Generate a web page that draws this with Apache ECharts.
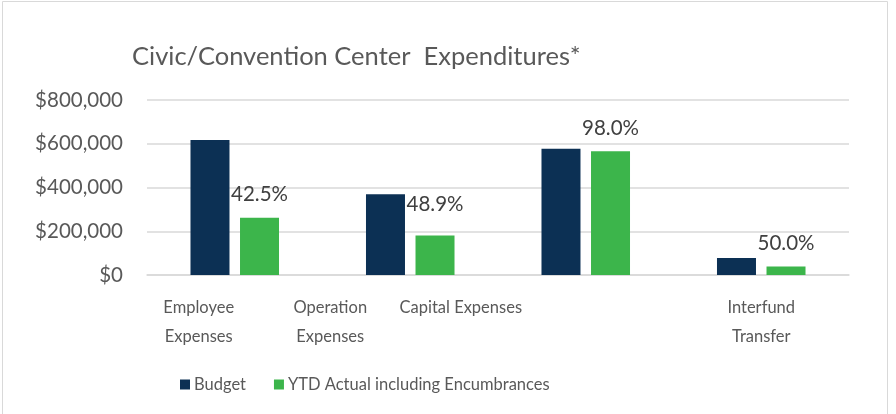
<!DOCTYPE html>
<html><head><meta charset="utf-8">
<script src="https://cdn.jsdelivr.net/npm/echarts@6/dist/echarts.min.js"></script>
<style>html,body{margin:0;padding:0;background:#fff}#c{width:896px;height:414px}</style>
</head><body><div id="c"></div>
<script>
const categories = ['Employee\nExpenses', 'Operation\nExpenses', 'Capital Expenses', 'Interfund\nTransfer'];
const budget = [617000, 369000, 577000, 78000];
const ytdActual = [262000, 180500, 565500, 39000];
const pctLabels = ['42.5%', '48.9%', '98.0%', '50.0%'];
const yTicks = [0, 200000, 400000, 600000, 800000];

const FONT = 'Lato';
const TXT = '#595959';
const labelShift = [72, 160, 250, 0];
const labelDist = [13, 21, 12, 13];

const chart = echarts.init(document.getElementById('c'));
chart.setOption({
  animation: false,
  textStyle: {fontFamily: FONT},
  graphic: [{type: 'rect', shape: {x: 2.5, y: 1.5, width: 885, height: 430}, style: {fill: 'none', stroke: '#d9d9d9', lineWidth: 1}}],
  title: {
    text: 'Civic/Convention Center  Expenditures*',
    left: 127, top: 39,
    textStyle: {fontFamily: FONT, fontSize: 25.5, fontWeight: 'normal', color: TXT}
  },
  legend: {
    bottom: 16, left: 175,
    itemWidth: 10, itemHeight: 10, itemGap: 28,
    icon: 'rect',
    textStyle: {fontFamily: FONT, fontSize: 16.5, color: TXT, padding: [0, 0, 0, -1]},
    data: ['Budget', 'YTD Actual including Encumbrances']
  },
  grid: {left: 147, right: 47, top: 100, bottom: 139},
  xAxis: {
    type: 'category',
    data: categories.map((c, i) => ({value: c, textStyle: {padding: [0, labelShift[i], 0, 0]}})),
    axisLine: {show: true, lineStyle: {color: '#d9d9d9', width: 1.5}},
    axisTick: {show: false},
    axisLabel: {fontFamily: FONT, fontSize: 16.5, color: TXT, margin: 18, lineHeight: 29, interval: 0}
  },
  yAxis: {
    type: 'value', min: yTicks[0], max: yTicks[yTicks.length - 1], interval: 200000,
    axisLine: {show: false}, axisTick: {show: false},
    splitLine: {lineStyle: {color: '#d9d9d9', width: 1.5}},
    axisLabel: {fontFamily: FONT, fontSize: 20.5, color: TXT, margin: 24,
      formatter: v => '$' + v.toLocaleString('en-US')}
  },
  series: [
    {name: 'Budget', type: 'bar', data: budget, barWidth: 39, barGap: '27%',
      itemStyle: {color: '#0c3054'}},
    {name: 'YTD Actual including Encumbrances', type: 'bar', data: ytdActual.map((v, i) => ({
        value: v,
        label: {show: true, position: 'top', distance: labelDist[i], formatter: pctLabels[i],
          fontFamily: FONT, fontSize: 20.5, color: '#404040'}
      })),
      barWidth: 39, itemStyle: {color: '#3cb54b'}}
  ]
});
</script></body></html>
